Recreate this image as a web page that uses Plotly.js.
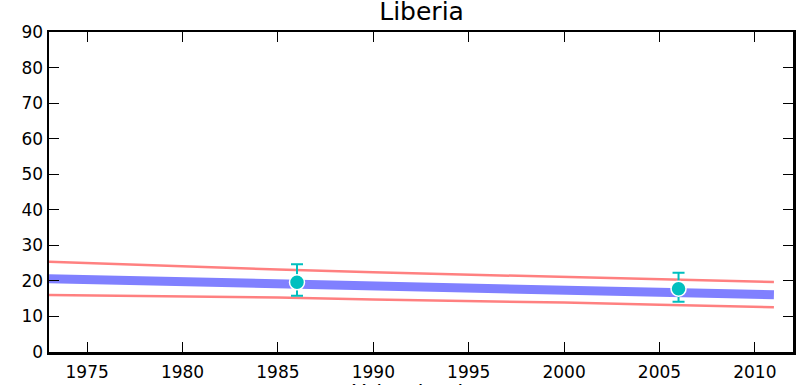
<!DOCTYPE html>
<html>
<head>
<meta charset="utf-8">
<script src="https://cdn.plot.ly/plotly-3.0.1.min.js"></script>
<style>html,body{margin:0;padding:0;background:#fff;}#chart{width:803px;height:385px;}</style>
</head>
<body>
<div id="chart"></div>
<script>
// Model curve years and values
const lineYears = [1973, 1975, 1980, 1985, 1990, 1995, 2000, 2005, 2011];
const modelMean  = [20.6, 20.4, 19.9, 19.3, 18.7, 18.1, 17.4, 16.8, 16.1];
const modelUpper = [25.4, 25.0, 24.1, 23.2, 22.4, 21.8, 21.2, 20.4, 19.7];
const modelLower = [16.0, 15.9, 15.6, 15.3, 14.8, 14.4, 13.9, 13.3, 12.6];
// Survey observations
const obsYears = [1986, 2006];
const obsValues = [19.6, 17.8];
const obsUpper = [24.7, 22.3];
const obsLower = [15.8, 14.1];
const xTicks = [1975, 1980, 1985, 1990, 1995, 2000, 2005, 2010];
const yTicks = [0, 10, 20, 30, 40, 50, 60, 70, 80, 90];
const xTitle = 'Urbanization';

const font = {family: 'DejaVu Sans', size: 17, color: '#000'};
const traces = [
  {x: lineYears, y: modelMean, mode: 'lines', line: {color: '#8080ff', width: 9}, hoverinfo: 'skip'},
  {x: lineYears, y: modelUpper, mode: 'lines', line: {color: '#ff8080', width: 2.5}, hoverinfo: 'skip'},
  {x: lineYears, y: modelLower, mode: 'lines', line: {color: '#ff8080', width: 2.5}, hoverinfo: 'skip'},
  {x: obsYears, y: obsValues, mode: 'markers',
   marker: {color: '#00bfbf', size: 15, line: {color: '#ffffff', width: 1.5}},
   error_y: {type: 'data', symmetric: false,
     array: obsValues.map((v, i) => obsUpper[i] - v),
     arrayminus: obsValues.map((v, i) => v - obsLower[i]),
     color: '#00bfbf', thickness: 2, width: 6}}
];
const layout = {
  width: 803, height: 385,
  margin: {l: 49, r: 10, t: 32, b: 33},
  paper_bgcolor: '#fff', plot_bgcolor: '#fff',
  showlegend: false,
  font: font,
  title: {text: 'Liberia', font: {family: 'DejaVu Sans', size: 25, color: '#000'}, x: 0.525, xanchor: 'center', y: 1, yanchor: 'top', pad: {t: 2}},
  annotations: [{text: xTitle, xref: 'paper', yref: 'paper', x: 0.5, y: -0.08,
    xanchor: 'center', yanchor: 'top', showarrow: false,
    font: {family: 'DejaVu Sans', size: 22, color: '#000'}}],
  xaxis: {range: [1973, 2012], tickvals: xTicks, ticktext: xTicks.map(String),
    ticks: 'inside', ticklen: 10, tickwidth: 1, tickcolor: '#000',
    showline: true, linewidth: 2.5, linecolor: '#000', mirror: 'ticks',
    showgrid: false, zeroline: false, tickfont: font, ticklabelstandoff: 3},
  yaxis: {range: [0, 90], tickvals: yTicks, ticktext: yTicks.map(String),
    ticks: 'inside', ticklen: 10, tickwidth: 1, tickcolor: '#000',
    showline: true, linewidth: 2.5, linecolor: '#000', mirror: 'ticks',
    showgrid: false, zeroline: false, tickfont: font}
};
Plotly.newPlot('chart', traces, layout, {staticPlot: true, displayModeBar: false});
</script>
</body>
</html>
